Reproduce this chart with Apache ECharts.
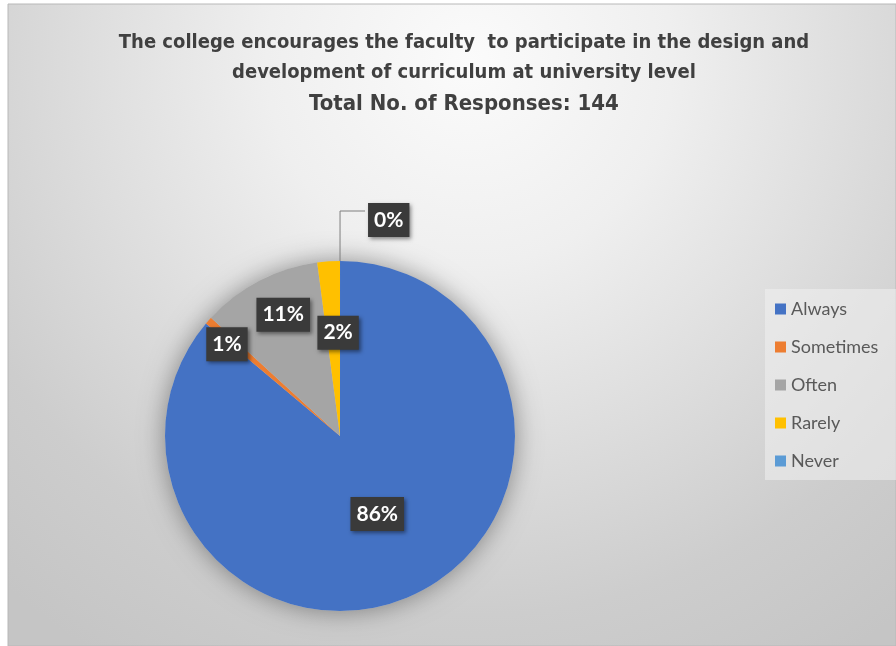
<!DOCTYPE html>
<html>
<head>
<meta charset="utf-8">
<script src="https://cdn.jsdelivr.net/npm/echarts@6/dist/echarts.min.js"></script>
<style>
html,body{margin:0;padding:0;background:#ffffff;}
#chart{width:896px;height:646px;}
</style>
</head>
<body>
<div id="chart"></div>
<script>
// ---- data ----
const titleLines = [
  'The college encourages the faculty  to participate in the design and',
  'development of curriculum at university level'
];
const subtitleText = 'Total No. of Responses: 144';
const categories = ['Always', 'Sometimes', 'Often', 'Rarely', 'Never'];
const counts = [124, 1, 16, 3, 0];
const colors = ['#4472C4', '#ED7D31', '#A5A5A5', '#FFC000', '#5B9BD5'];
// label nudges (layout only), per category
const labelNudge = [[-1, -4], [-45, -32], [-15, -41], [4, -13], [-2, 9]];

const total = counts.reduce((a, b) => a + b, 0);
const chart = echarts.init(document.getElementById('chart'));
const fontFam = "'Liberation Sans Narrow', 'DejaVu Sans Condensed', Lato, sans-serif";

const option = {
  backgroundColor: '#ffffff',
  color: colors,
  animation: false,
  graphic: [{
    type: 'rect',
    z: -10,
    silent: true,
    shape: { x: 8, y: 4, width: 888, height: 642 },
    style: {
      fill: {
        type: 'radial', x: 0.52, y: 0.09, r: 1.09,
        colorStops: [
          { offset: 0, color: '#fbfbfb' },
          { offset: 0.29, color: '#efefef' },
          { offset: 0.57, color: '#dcdcdc' },
          { offset: 0.79, color: '#cdcdcd' },
          { offset: 1, color: '#c5c5c5' }
        ]
      },
      stroke: '#b8b8b8',
      lineWidth: 1
    }
  }],
  title: {
    text: titleLines.join('\n') + '\n{s|' + subtitleText + '}',
    left: 459,
    top: 23,
    textAlign: 'center',
    textStyle: {
      fontFamily: fontFam,
      fontSize: 20,
      fontWeight: 'bold',
      color: '#404040',
      lineHeight: 30,
      rich: {
        s: { fontFamily: fontFam, fontSize: 22, fontWeight: 'bold', color: '#404040', lineHeight: 32 }
      }
    }
  },
  legend: {
    orient: 'vertical',
    left: 765,
    top: 289,
    width: 131,
    padding: [11, 30, 10, 10],
    backgroundColor: 'rgba(240,240,240,0.55)',
    itemWidth: 11,
    itemHeight: 11,
    itemGap: 20,
    icon: 'rect',
    data: categories,
    textStyle: { fontFamily: "Lato, 'Open Sans', sans-serif", fontSize: 18, lineHeight: 18, color: '#595959', padding: [0, 0, 0, 0] }
  },
  series: [
    {
      type: 'pie',
      name: 'shadow',
      silent: true,
      center: [340, 436],
      radius: [0, 175],
      z: 1,
      label: { show: false },
      labelLine: { show: false },
      legendHoverLink: false,
      data: [{ value: total, name: '__bg', itemStyle: { color: '#c8c8c8', shadowBlur: 26, shadowColor: 'rgba(0,0,0,0.4)' } }],
      tooltip: { show: false }
    },
    {
      type: 'pie',
      name: 'Responses',
      center: [340, 436],
      radius: [0, 175],
      startAngle: 89.99,
      clockwise: true,
      z: 2,
      percentPrecision: 0,
      stillShowZeroSum: true,
      avoidLabelOverlap: false,
      itemStyle: { borderWidth: 0 },
      label: {
        show: true,
        position: 'inside',
        formatter: '{d}%',
        fontFamily: "Lato, 'Open Sans', sans-serif",
        fontSize: 21,
        fontWeight: 'bold',
        color: '#ffffff',
        backgroundColor: '#3a3a3a',
        padding: [7, 6, 6, 6],
        shadowBlur: 4,
        shadowOffsetX: 2,
        shadowOffsetY: 2,
        shadowColor: 'rgba(0,0,0,0.45)'
      },
      labelLine: { show: false },
      labelLayout: function (params) {
        const n = labelNudge[params.dataIndex] || [0, 0];
        return { dx: n[0], dy: n[1] };
      },
      data: categories.map((c, i) => {
        const item = { name: c, value: counts[i] };
        if (counts[i] === 0) {
          item.label = { position: 'outside', distance: 3, padding: [7, 6, 6, 6] };
          item.labelLine = { show: true, length: 50, length2: 25, lineStyle: { color: '#7f7f7f', width: 1 } };
        }
        return item;
      })
    }
  ]
};
chart.setOption(option);
</script>
</body>
</html>
